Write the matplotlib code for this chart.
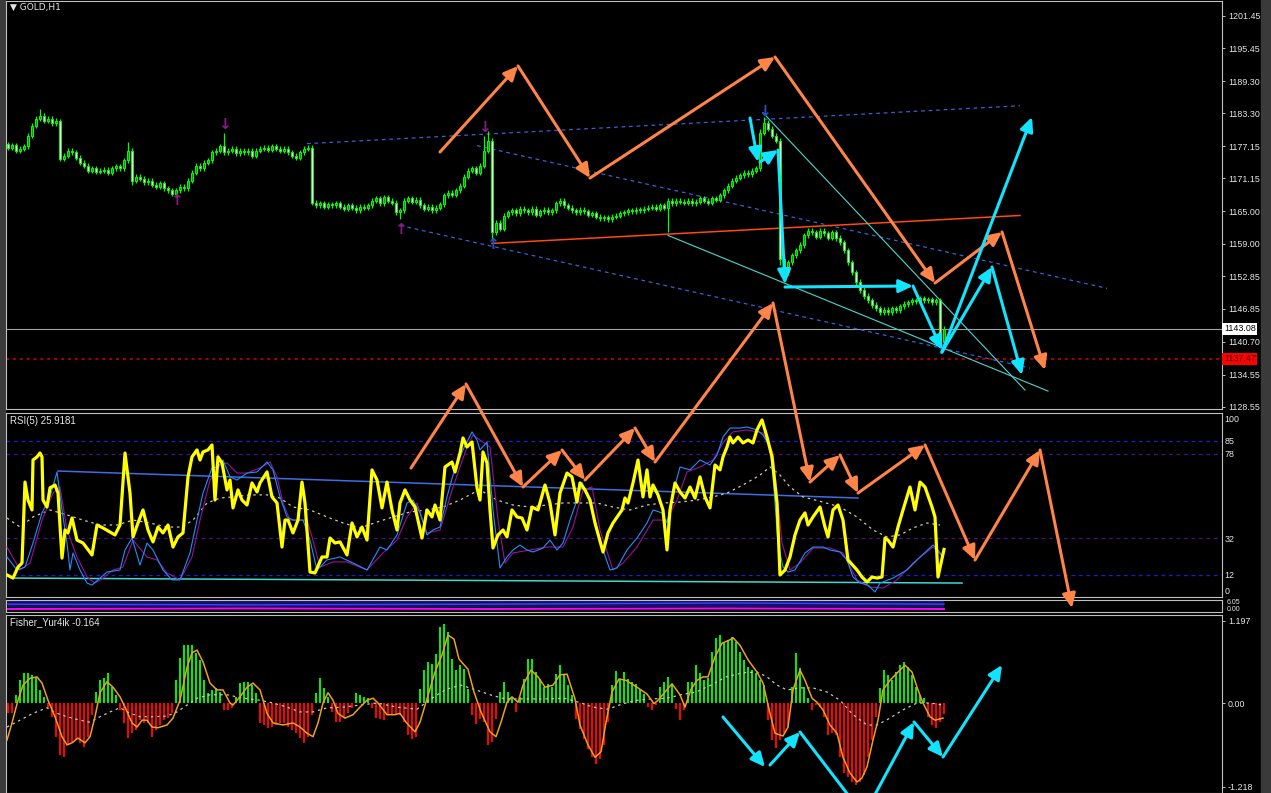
import matplotlib
matplotlib.use("Agg")
import matplotlib.pyplot as plt
from matplotlib.patches import Rectangle
from matplotlib.transforms import blended_transform_factory

W, H = 1271, 793
BG = "black"
FRAME = "#c0c0c0"
TXT = "#e6e6e6"
FONT = "Liberation Sans"

# ---------------- price (GOLD, H1) : one close per bar ----------------
open_first = 1177.5
closes = [
    1176.9, 1177.3, 1176.3, 1176.7, 1177.1,
    1179.1, 1181.0, 1182.3, 1182.8,
    1181.9, 1182.3, 1181.5, 1181.9,
    1174.8,
    1175.4, 1176.3, 1176.0, 1175.0, 1174.1,
    1173.5, 1172.6, 1173.0, 1172.4, 1172.6, 1172.8, 1172.2, 1173.0,
    1173.4, 1173.0, 1174.5,
    1176.3,
    1170.7,
    1171.5, 1171.1, 1170.4, 1170.7,
    1170.0, 1169.6, 1170.2, 1169.3, 1168.9,
    1168.3, 1168.9, 1169.6, 1169.3, 1170.7,
    1172.2, 1173.5, 1173.0, 1174.1, 1174.5,
    1176.0, 1176.3, 1177.1, 1176.0,
    1176.3, 1176.7, 1175.8, 1176.3, 1176.0, 1176.3, 1175.4,
    1176.3, 1176.7, 1176.9, 1176.5, 1177.1, 1176.7, 1176.3, 1176.7, 1176.0,
    1175.4, 1175.0, 1176.0, 1176.7,
    1176.9,
    1166.6,
    1166.1, 1166.5, 1165.9, 1166.3, 1166.1, 1166.5,
    1165.9, 1165.5, 1166.1, 1165.7, 1165.2, 1165.9, 1165.7, 1166.1,
    1167.0, 1167.4, 1166.5, 1167.6, 1167.0, 1166.6,
    1164.8, 1165.2,
    1167.0, 1167.4, 1166.8, 1167.2,
    1166.1, 1165.5, 1165.9, 1165.2, 1165.7, 1166.3,
    1168.0, 1168.5, 1168.1, 1168.9,
    1169.8, 1171.5, 1172.6,
    1173.0, 1172.2, 1173.5,
    1176.3, 1178.2,
    1161.1,
    1162.9, 1161.8,
    1164.2, 1164.8, 1165.2, 1164.6, 1165.5,
    1165.2, 1164.8, 1165.5, 1164.4, 1165.0, 1165.3, 1164.8, 1165.2,
    1166.5, 1167.0, 1166.1,
    1165.7, 1165.2, 1164.8, 1165.3, 1165.0, 1164.4, 1164.6,
    1164.0, 1163.7, 1163.9, 1163.5, 1164.0, 1164.2, 1164.6,
    1164.8, 1165.2, 1165.0, 1165.3, 1165.2, 1165.5,
    1165.7, 1165.9, 1165.5, 1166.1, 1165.7,
    1167.0,
    1166.5, 1167.0, 1166.8, 1166.6, 1167.0, 1166.5, 1166.8, 1167.4,
    1167.0, 1166.6, 1167.4, 1167.2, 1168.0, 1168.9,
    1169.8, 1170.7,
    1171.3, 1171.7, 1172.2, 1171.9, 1172.6, 1173.0,
    1179.7,
    1181.5,
    1180.4, 1179.1,
    1178.2,
    1156.2,
    1153.6, 1155.5,
    1156.8, 1157.7, 1158.7,
    1160.5, 1161.4,
    1161.1, 1160.3, 1161.4, 1160.9, 1160.1,
    1161.1, 1160.0, 1159.2,
    1157.7, 1155.5, 1153.6, 1151.8,
    1150.3, 1149.2, 1148.4, 1147.5,
    1146.9, 1146.2, 1146.6, 1146.2, 1146.9, 1146.6, 1147.3,
    1147.7, 1148.0, 1148.4, 1148.2,
    1148.8, 1148.4, 1148.6, 1148.0, 1148.4,
    1140.6,
    1143.08,
]
WICK = 0.5
high_fix = {8: 1184.1, 13: 1182.2, 30: 1178.0, 54: 1179.7, 119: 1179.0,
            120: 1180.0, 189: 1182.6, 190: 1182.0, 188: 1180.3}
low_fix = {31: 1170.0, 42: 1167.6, 98: 1163.5, 121: 1159.9, 165: 1161.2,
           193: 1155.0, 194: 1151.9, 233: 1140.0}

price_ticks = [1201.45, 1195.45, 1189.30, 1183.30, 1177.15, 1171.15, 1165.00,
               1159.00, 1152.85, 1146.85, 1140.70, 1134.55, 1128.55]
last_price = 1143.08
alert_price = 1137.47

# fractal arrows: bar, price, direction, colour
frac_bar = [42, 54, 98, 119, 121, 189, 233]
frac_price = [1167.0, 1181.2, 1161.6, 1180.6, 1158.9, 1183.6, 1139.3]
frac_dir = ["up", "down", "up", "down", "up", "down", "up"]
frac_col = ["#8a1a8a", "#8a1a8a", "#8a1a8a", "#8a1a8a", "#1e56c8", "#1e56c8", "#1e56c8"]

# trend lines on the price window (bar, price) pairs
chan_upper = ([74.75, 253.0], [1177.63, 1184.70])
chan_mid = ([117.25, 274.75], [1177.26, 1150.64])
chan_lower = ([98.0, 255.5], [1162.37, 1135.76])
red_line = ([121.0, 253.0], [1159.02, 1164.23])
cyan_line1 = ([165.0, 260.0], [1160.51, 1131.48])
cyan_line2 = ([188.75, 254.25], [1183.40, 1131.66])

# ---------------- RSI(5) window ----------------
rsi_x = [-0.25, 1.25, 2.5, 3.5, 4.25, 5, 6, 6.25, 7.25, 8,
         8.5, 8.75, 9.75, 10.5, 11.75, 12.5, 13.5, 14.25, 15, 16,
         17.25, 18.75, 21, 22.25, 23.75, 25.5, 26.75, 28, 29.25, 30.5,
         31.25, 32.5, 33.75, 35, 36.25, 37.5, 38.75, 40, 41.25, 42.5,
         43.75, 45, 46, 47.25, 48, 48.75, 50, 51, 51.75, 52.5,
         53.5, 54.75, 55.5, 56.25, 57.5, 58.5, 59.75, 61, 62.25, 63,
         64.75, 66, 67.25, 68.5, 69.25, 70, 71.25, 72.5, 73.5, 74.25,
         75.5, 76.75, 78.5, 79.75, 80.5, 81.75, 83, 84.75, 86, 87.25,
         88.5, 89.75, 91, 92.25, 93.5, 94.75, 96, 97.25, 98, 99.25,
         100.5, 101.75, 103.5, 104.75, 106, 106.75, 108, 109.25, 111, 111.75,
         113, 113.75, 114.75, 116, 117.25, 118, 118.75, 119.75, 120.5, 121.25,
         122.5, 123.75, 124.75, 126, 127.25, 128.5, 129.75, 131, 132.5, 134.25,
         135.5, 136.75, 138, 139.75, 141, 142.25, 143, 144.25, 145.5, 146.75,
         148.75, 150, 151.25, 153.5, 154.25, 155, 156.25, 157.5, 158.75, 159.75,
         160.5, 161.25, 162.5, 163.75, 164.75, 165.5, 166.75, 168, 169.25, 170.5,
         171.75, 173, 174.25, 175.5, 176.75, 178, 178.75, 179.75, 180.5, 181.25,
         182.5, 183.75, 185, 186.25, 187.25, 188.5, 189.75, 191, 192.25, 193,
         194.25, 195.5, 196.75, 198, 199.25, 200, 201.25, 203, 204.25, 205,
         206.25, 207.5, 208.75, 210, 212.25, 213.5, 214.75, 216, 217.25, 218.5,
         219.25, 220, 221.25, 222.5, 223.75, 225.5, 226.75, 228, 229.25, 231,
         231.75, 232.5, 234]
rsi_v = [12.0, 10.3, 16.3, 18.5, 62.6, 52.8, 47.4, 74.6, 76.3, 78.4,
         76.3, 52.8, 49.0, 59.4, 61.0, 56.6, 21.2, 36.5, 34.9, 43.0,
         31.0, 29.4, 22.9, 39.2, 37.6, 35.4, 33.8, 39.2, 78.4, 56.6,
         32.7, 40.3, 47.4, 36.5, 30.0, 38.1, 34.9, 39.2, 27.2, 32.7,
         34.9, 65.4, 76.3, 80.1, 74.6, 79.0, 80.1, 82.8, 52.8, 76.3,
         73.0, 58.3, 63.7, 48.5, 58.3, 52.8, 50.1, 62.1, 57.2, 62.1,
         68.1, 54.5, 51.2, 27.2, 41.9, 41.9, 34.9, 41.9, 62.6, 51.2,
         13.6, 13.1, 21.8, 21.8, 32.1, 29.4, 30.0, 22.9, 40.3, 32.7,
         38.1, 31.0, 69.2, 63.7, 48.5, 62.6, 47.4, 36.5, 51.2, 58.3,
         52.8, 49.0, 32.1, 47.4, 43.6, 50.1, 41.9, 70.8, 73.5, 68.1,
         78.4, 86.6, 81.7, 84.4, 59.4, 52.8, 79.0, 73.0, 47.4, 26.7,
         33.8, 36.5, 32.7, 47.4, 43.6, 43.0, 36.5, 49.0, 47.4, 61.0,
         51.2, 33.8, 56.6, 67.5, 65.4, 51.7, 62.1, 58.3, 52.8, 40.3,
         24.5, 34.9, 40.3, 47.4, 53.9, 51.2, 62.1, 74.6, 54.5, 69.2,
         54.5, 61.0, 55.6, 47.4, 25.6, 47.4, 62.1, 57.2, 53.9, 59.9,
         53.9, 65.4, 54.5, 48.5, 71.9, 69.2, 76.3, 81.7, 87.1, 83.9,
         87.1, 83.9, 85.5, 83.9, 91.0, 96.4, 87.1, 76.3, 51.2, 12.0,
         14.7, 21.8, 33.8, 41.9, 45.8, 39.2, 43.6, 49.0, 38.1, 32.7,
         47.4, 50.1, 41.9, 20.2, 14.7, 10.9, 8.2, 10.9, 10.3, 10.9,
         32.1, 31.0, 27.2, 38.1, 47.4, 59.9, 47.4, 62.6, 59.9, 49.0,
         43.6, 10.9, 25.9]

sig_blue_x = [-0.25, 2.25, 4.25, 6.25, 8.5, 10.5, 12.25, 13.5, 14.75, 15.5,
              16.25, 18, 19.75, 21, 23, 24.75, 28, 29.25, 31, 33,
              34.75, 36.25, 38.75, 41, 43, 45.5, 47.25, 48.75, 51, 52.5,
              53.75, 55.5, 57.25, 59.75, 62.25, 64.75, 66.25, 68, 69.75, 71.25,
              73.75, 75.5, 77.25, 79.75, 83, 86.25, 89.75, 93, 94.75, 97.25,
              99.75, 101.25, 103, 104.75, 106.25, 108, 109.75, 111.25, 113.75, 116,
              117.25, 118, 119.75, 121.25, 123, 124.75, 126.25, 128, 129.75, 131.25,
              133.75, 135.5, 137.25, 138.75, 140.5, 142.25, 143.5, 145, 146.75, 148.75,
              150.5, 152.25, 154.75, 157.25, 159.75, 161.25, 163.5, 164.75, 166.25, 168,
              170.5, 173, 175.5, 177.25, 178.75, 180.5, 183, 184.75, 187.25, 188.75,
              190.5, 191.25, 192.5, 193.75, 195, 196.75, 199.25, 201.25, 203.75, 205.5,
              208, 209.75, 211.25, 213, 215, 216.75, 218, 221.25, 224.75, 228,
              231.25, 232.5, 233.75]
sig_blue_v = [21.8, 14.7, 16.3, 29.4, 45.8, 54.5, 68.1, 47.4, 29.4, 14.7,
              24.0, 14.7, 7.6, 6.5, 10.3, 13.6, 14.7, 25.6, 32.1, 17.4,
              29.4, 25.6, 14.7, 9.3, 9.3, 24.0, 41.9, 56.6, 70.3, 70.8,
              74.6, 65.4, 63.7, 67.5, 68.1, 73.5, 69.2, 54.5, 43.6, 41.9,
              41.9, 31.0, 14.7, 20.2, 21.8, 18.5, 14.7, 27.2, 25.6, 33.8,
              51.2, 52.8, 45.8, 33.8, 36.5, 38.1, 54.5, 66.4, 80.1, 89.9,
              85.5, 80.1, 84.4, 47.4, 15.8, 21.8, 25.6, 28.3, 25.6, 24.5,
              26.7, 31.0, 25.6, 29.4, 41.9, 52.8, 62.6, 54.5, 41.9, 25.6,
              14.7, 15.8, 25.6, 32.1, 40.3, 47.4, 45.8, 40.3, 56.6, 70.8,
              69.2, 74.6, 71.9, 77.3, 87.1, 92.0, 92.0, 92.6, 91.0, 88.2,
              81.7, 65.4, 29.4, 16.3, 13.6, 14.7, 24.0, 27.2, 27.2, 25.6,
              24.5, 20.2, 10.9, 7.6, 6.5, 2.7, 7.6, 10.3, 14.7, 21.8,
              28.3, 25.6, 21.8]

sig_purple_x = [-0.25, 3, 5.5, 8.5, 11.25, 13, 14.75, 17.25, 19.75, 21.75,
                23.75, 26.25, 28.75, 31.25, 34.75, 37.25, 39.75, 43, 46, 48,
                50.5, 53, 54.75, 57.25, 59.75, 63, 65.5, 67.25, 68.75, 70.5,
                74.75, 76, 78, 81.25, 84.75, 89.75, 93.75, 97.25, 99.75, 102.25,
                104.75, 108, 111.25, 114.75, 116.25, 118, 120.5, 122.5, 124.25, 126.25,
                130.5, 134.75, 138.75, 141.25, 143.75, 146, 148, 151.25, 153.75, 157.25,
                161.25, 164.75, 167.25, 169.75, 173, 176.25, 178.75, 181.25, 184.75, 188.75,
                191.25, 193.5, 195.5, 198, 201.25, 205.5, 208.75, 212.25, 215.5, 218.75,
                222.25, 226.25, 231.25, 233.75]
sig_purple_v = [27.2, 14.7, 18.5, 41.9, 56.6, 59.9, 36.5, 21.8, 10.9, 7.6,
                10.3, 14.7, 16.3, 31.0, 21.8, 20.2, 13.1, 9.3, 21.8, 41.9,
                63.7, 71.9, 73.0, 67.5, 67.5, 70.3, 73.5, 65.4, 51.2, 41.9,
                41.9, 32.7, 16.3, 19.1, 19.1, 14.7, 24.0, 31.0, 43.6, 51.2,
                34.9, 36.5, 59.9, 81.7, 88.2, 85.5, 81.7, 41.9, 18.5, 24.0,
                25.6, 27.2, 27.2, 38.1, 58.3, 59.9, 36.5, 14.7, 18.5, 27.2,
                41.9, 41.9, 52.8, 68.1, 70.8, 74.6, 83.9, 89.9, 91.0, 89.3,
                78.4, 29.4, 14.7, 18.5, 26.7, 26.7, 24.0, 9.3, 5.4, 4.9,
                9.3, 18.5, 27.2, 21.8]

rsi_slow_x = [-0.25, 3, 6.25, 10.5, 14.75, 18.75, 23, 27.25, 31.25, 35.5,
              39.75, 43.5, 46.25, 49.75, 53, 56.25, 60.5, 64.75, 68, 71.25,
              75.5, 79.75, 83.75, 88, 92.25, 96.25, 100.5, 104.75, 108.75, 113,
              116.25, 118, 122.25, 126.25, 130.5, 134.75, 138.75, 143, 147.25, 151.25,
              155.5, 159.75, 163.75, 168, 172.25, 176.25, 179.75, 183.75, 188, 190.5,
              193, 195.5, 198.75, 203.75, 208, 212.25, 216.25, 219.75, 223, 226.25,
              229.75, 233]
rsi_slow_v = [43.0, 38.1, 43.6, 47.4, 44.7, 41.9, 39.2, 39.2, 41.9, 40.3,
              38.1, 38.1, 41.9, 51.2, 53.9, 54.5, 55.6, 55.6, 53.9, 49.0,
              47.4, 43.6, 40.3, 37.6, 40.8, 43.6, 46.3, 47.4, 49.0, 52.8,
              56.6, 58.3, 52.8, 50.1, 49.0, 50.1, 51.2, 51.2, 51.2, 49.0,
              47.4, 50.1, 51.2, 51.7, 52.8, 54.5, 56.6, 61.0, 66.4, 70.8,
              66.4, 59.9, 54.5, 51.7, 49.0, 43.6, 36.5, 32.7, 33.8, 37.6,
              40.3, 39.2]

rsi_levels = [85, 78, 32, 12]
rsi_level_colors = ["#1c1cd0", "#4a1088", "#4a1088", "#1c1cd0"]
rsi_tick_pos = [97, 85, 78, 32, 12, 3.3]
rsi_tick_lbl = ["100", "85", "78", "32", "12", "0"]
rsi_trend_blue = ([12.5, 212.5], [68.6, 53.9])
rsi_trend_cyan = ([1.75, 238.5], [10.3, 7.6])

# ---------------- Fisher_Yur4ik window ----------------
fisher_hist = [
    -0.15, -0.15, 0.12, 0.33, 0.44, 0.44, 0.41, 0.36, 0.19, 0.09,
    -0.07, -0.20, -0.49, -0.76, -0.79, -0.61, -0.57, -0.54, -0.58, -0.64,
    -0.49, -0.17, 0.16, 0.33, 0.36, 0.44, 0.23, 0.12, -0.10, -0.29,
    -0.51, -0.44, -0.39, -0.25, -0.29, -0.29, -0.49, -0.39, -0.32, -0.25,
    -0.22, -0.15, 0.33, 0.66, 0.84, 0.84, 0.84, 0.73, 0.63, 0.33,
    0.15, 0.19, 0.22, 0.16, -0.10, -0.10, -0.07, 0.09, 0.29, 0.31,
    0.31, 0.26, 0.15, -0.29, -0.32, -0.36, -0.35, -0.32, -0.29, -0.29,
    -0.35, -0.39, -0.44, -0.51, -0.58, -0.49, -0.17, 0.15, 0.36, 0.22,
    0.09, -0.13, -0.28, -0.28, -0.20, -0.15, -0.07, 0.15, 0.12, 0.09,
    0.07, -0.07, -0.22, -0.23, -0.25, -0.17, -0.16, -0.17, -0.17, -0.28,
    -0.47, -0.52, -0.49, 0.20, 0.48, 0.60, 0.57, 0.71, 1.11, 1.15,
    1.03, 0.64, 0.48, 0.55, 0.49, 0.20, -0.17, -0.31, -0.23, -0.28,
    -0.61, -0.57, -0.23, 0.16, 0.31, 0.16, 0.09, -0.13, 0.09, 0.35,
    0.64, 0.64, 0.45, 0.35, 0.23, 0.28, 0.23, 0.42, 0.55, 0.42,
    0.26, 0.12, -0.23, -0.38, -0.52, -0.67, -0.79, -0.89, -0.82, -0.61,
    -0.28, 0.26, 0.47, 0.35, 0.45, 0.35, 0.31, 0.28, 0.20, 0.13,
    -0.06, -0.10, -0.03, 0.23, 0.31, 0.38, 0.28, -0.09, -0.25, -0.10,
    0.31, 0.31, 0.55, 0.44, 0.33, 0.36, 0.74, 0.95, 0.99, 0.89,
    0.92, 0.96, 0.89, 0.74, 0.63, 0.52, 0.48, 0.44, 0.33, 0.26,
    -0.25, -0.54, -0.66, -0.54, -0.44, -0.35, 0.23, 0.73, 0.51, 0.23,
    0.07, -0.10, -0.03, -0.06, -0.20, -0.47, -0.44, -0.47, -0.79, -1.02,
    -1.08, -1.15, -1.19, -1.15, -1.05, -0.79, -0.54, -0.20, 0.22, 0.48,
    0.41, 0.33, 0.45, 0.55, 0.60, 0.52, 0.41, 0.23, 0.12, 0.07,
    -0.20, -0.32, -0.36, -0.28, -0.164,
]
fish_line_x = [-0.25, 1, 2.5, 3.75, 5.5, 7.25, 8.5, 10, 11.75, 13.5,
               14.75, 16, 17.5, 19.25, 20.5, 21.75, 23, 24.75, 26.25, 28,
               29.25, 31, 32.25, 33.5, 34.75, 36, 37.5, 39.75, 41.25, 43,
               44.75, 46, 47.25, 48.75, 50.5, 52.25, 53.75, 55.5, 56.25, 58,
               59.75, 61.25, 63, 64.75, 66.25, 68.75, 71.25, 73, 74.75, 76.25,
               77.5, 78.75, 80, 81.25, 82.5, 84.25, 86.25, 88, 89.75, 91.25,
               92.5, 94.75, 96.75, 98, 99.5, 101.75, 103, 104.5, 106.75, 108.5,
               110, 111.5, 112.75, 115, 116.5, 118.25, 120.5, 122, 123.25, 124.75,
               126, 127.5, 128.75, 130.75, 132.5, 134.25, 136.25, 138, 139.75, 141.75,
               143, 145, 146.75, 148.25, 149.5, 151, 152.75, 154.5, 157.25, 159.75,
               161.5, 162.5, 164.25, 166, 168, 169.25, 170.75, 172.25, 173.75, 175,
               176.75, 178.5, 180.5, 181.25, 183, 185, 187.25, 188.75, 190.5, 191.75,
               193.75, 195, 196.25, 198, 199.25, 201, 202.25, 203.75, 205.5, 207.25,
               208.75, 210.5, 212.25, 213.5, 214.75, 216.25, 217.5, 218.75, 220.5, 222.5,
               224.25, 226, 227.5, 228.75, 230.5, 231.75, 233.75]
fish_line_v = [-0.54, -0.29, 0.04, 0.26, 0.36, 0.38, 0.29, 0.04, -0.20, -0.49,
               -0.61, -0.58, -0.51, -0.58, -0.49, -0.20, 0.15, 0.31, 0.23, 0.09,
               -0.06, -0.29, -0.35, -0.25, -0.25, -0.35, -0.36, -0.32, -0.22, 0.04,
               0.52, 0.73, 0.77, 0.60, 0.29, 0.19, 0.19, 0.0, -0.03, 0.09,
               0.23, 0.29, 0.19, -0.15, -0.29, -0.32, -0.29, -0.35, -0.44, -0.49,
               -0.29, 0.0, 0.15, 0.04, -0.15, -0.22, -0.17, -0.06, 0.04, 0.07,
               0.0, -0.17, -0.17, -0.15, -0.28, -0.42, -0.28, 0.01, 0.45, 0.70,
               0.99, 0.93, 0.64, 0.49, 0.16, -0.13, -0.42, -0.49, -0.28, 0.01,
               0.09, 0.01, 0.26, 0.48, 0.38, 0.23, 0.26, 0.41, 0.42, 0.06,
               -0.32, -0.61, -0.79, -0.71, -0.28, 0.16, 0.35, 0.33, 0.23, 0.13,
               -0.01, 0.04, 0.16, 0.28, 0.12, -0.06, 0.20, 0.33, 0.38, 0.38,
               0.67, 0.87, 0.92, 0.95, 0.84, 0.63, 0.45, 0.29, -0.15, -0.44,
               -0.48, -0.35, 0.19, 0.48, 0.33, 0.07, 0.01, -0.10, -0.32, -0.44,
               -0.79, -1.02, -1.15, -1.09, -0.93, -0.54, -0.25, 0.19, 0.33, 0.45,
               0.55, 0.45, 0.19, 0.0, -0.20, -0.25, -0.22]
fish_slow_x = [-0.25, 3, 6.25, 9.75, 12.25, 14.75, 18, 20.5, 23, 25.5,
               28, 30.5, 33, 36.25, 39.75, 42.25, 44.75, 47.25, 50.5, 54.75,
               58.75, 63, 66.25, 69.75, 73, 76.25, 79.75, 83.75, 88, 92.25,
               97.25, 102.25, 105.75, 109.5, 113.25, 117, 120.5, 124.25, 128, 131.5,
               135.25, 139, 142.75, 146.25, 150, 153.75, 157.25, 161, 164.75, 168.25,
               172, 175.75, 179.5, 183.75, 187.25, 189.75, 192.25, 194.75, 198, 201.25,
               204.75, 208, 211.25, 214.75, 217.25, 220.5, 223.75, 227.25, 230.5, 233.75]
fish_slow_v = [-0.35, -0.25, -0.15, -0.07, -0.15, -0.20, -0.25, -0.28, -0.20, -0.13,
               -0.07, -0.15, -0.20, -0.20, -0.19, -0.13, -0.03, 0.07, 0.12, 0.12,
               0.07, 0.04, 0.0, -0.06, -0.13, -0.13, -0.07, -0.06, -0.03, 0.0,
               -0.06, -0.09, 0.06, 0.20, 0.26, 0.19, 0.12, 0.06, 0.06, 0.06,
               0.06, 0.07, 0.01, -0.06, -0.09, -0.01, 0.04, 0.06, 0.07, 0.12,
               0.16, 0.26, 0.38, 0.44, 0.45, 0.38, 0.26, 0.19, 0.22, 0.22,
               0.16, 0.04, -0.17, -0.32, -0.32, -0.22, -0.10, 0.0, 0.0, -0.03]
fisher_ticks = [1.197, 0.0, -1.218]
fisher_tick_lbl = ["1.197", "0.00", "-1.218"]

# thin garbled volume strip between RSI and Fisher
strip_x = [0, 60, 120, 180, 234]
strip_magenta = [2.5, 3.0, 2.5, 3.0, 2.5]
strip_blue = [6.5, 6.0, 6.5, 7.5, 6.5]

# hand-drawn arrows (screen pixels, y down) : chains, arrowhead at each vertex
orange_chains = [
    [(440, 152), (518, 66), (590, 178), (775, 57), (935, 283), (1002, 232), (1045, 370)],
    [(411, 468), (466, 384), (523, 487), (562, 450), (585, 480), (635, 428), (655, 462),
     (773, 303), (810, 482), (840, 455), (858, 493), (925, 445), (975, 560), (1040, 450),
     (1072, 608)],
]
cyan_chains = [
    [(750, 118), (758, 162)],
    [(760, 162), (778, 150), (785, 284)],
    [(785, 287), (913, 286), (942, 350)],
    [(942, 352), (1032, 117)],
    [(942, 352), (992, 267), (1022, 375)],
    [(723, 717), (765, 767)],
    [(770, 765), (800, 732)],
    [(872, 800), (914, 722), (943, 757), (1002, 665)],
]
cyan_plain = [[(800, 732), (852, 800)]]

XMIN, XMAX = -0.5, 303.5


def px_box(left, top, right, bottom):
    return [left / W, 1 - bottom / H, (right - left) / W, (bottom - top) / H]


def style_panel(ax):
    ax.set_facecolor(BG)
    for s in ax.spines.values():
        s.set_color(FRAME)
        s.set_linewidth(0.8)
    ax.set_xlim(XMIN, XMAX)
    ax.set_xticks([])
    ax.yaxis.tick_right()
    ax.tick_params(axis="y", colors=FRAME, labelcolor=TXT, labelsize=6.4,
                   length=2.2, width=0.7, pad=2)


plt.rcParams["font.family"] = [FONT, "DejaVu Sans"]
fig = plt.figure(figsize=(W / 100, H / 100), dpi=100, facecolor=BG)
fig.patches.append(Rectangle((0, 0), 5 / W, 1, transform=fig.transFigure,
                             color="#3a3a3a", zorder=-1))
fig.patches.append(Rectangle((1261 / W, 0), 10 / W, 1, transform=fig.transFigure,
                             color="#3a3a3a", zorder=-1))

# ---------------- main price window ----------------
ax = fig.add_axes(px_box(6, 1, 1222, 409))
ax.set_ylim(1128.13, 1204.24)
ax.set_yticks(price_ticks)
ax.set_yticklabels([f"{p:.2f}" for p in price_ticks])
style_panel(ax)

bars = list(range(len(closes)))
opens = [open_first] + closes[:-1]
highs = [high_fix.get(i, max(o, c) + WICK) for i, o, c in zip(bars, opens, closes)]
lows = [low_fix.get(i, min(o, c) - WICK) for i, o, c in zip(bars, opens, closes)]
ax.vlines(bars, lows, highs, color="#00ff00", lw=0.9, zorder=3)
bottoms = [min(o, c) for o, c in zip(opens, closes)]
heights = [max(abs(c - o), 0.15) for o, c in zip(opens, closes)]
faces = ["#009a00" if c >= o else "white" for o, c in zip(opens, closes)]
ax.bar(bars, heights, bottom=bottoms, width=0.7, color=faces,
       edgecolor="#00ff00", linewidth=0.7, zorder=4)

for b, p, d, col in zip(frac_bar, frac_price, frac_dir, frac_col):
    ax.text(b, p, "↑" if d == "up" else "↓", color=col, fontsize=11,
            fontweight="bold", ha="center", va="center", family="DejaVu Sans", zorder=5)

dash = (0, (3, 3))
for xs, ys in (chan_upper, chan_mid, chan_lower):
    ax.plot(xs, ys, color="#3a5fd6", lw=0.9, linestyle=dash, zorder=2)
ax.plot(*red_line, color="#ff4a10", lw=1.1, zorder=2)
ax.plot(*cyan_line1, color="#48d8d0", lw=0.8, zorder=2)
ax.plot(*cyan_line2, color="#48d8d0", lw=0.8, zorder=2)
ax.axhline(last_price, color="#9aa2aa", lw=0.8, zorder=1)
ax.axhline(alert_price, color="#d00000", lw=1.1, linestyle=(0, (2, 2.5)), zorder=1)

tr = blended_transform_factory(ax.transAxes, ax.transData)
ax.text(1.0015, last_price, f"{last_price:.2f}", transform=tr, fontsize=6.4,
        color="black", va="center", ha="left",
        bbox=dict(boxstyle="square,pad=0.18", fc="white", ec="none"))
ax.text(1.0015, alert_price, f"{alert_price:.2f}", transform=tr, fontsize=6.4,
        color="#400000", va="center", ha="left",
        bbox=dict(boxstyle="square,pad=0.18", fc="#ff0000", ec="none"))
ax.text(0.003, 0.985, "▼ GOLD,H1", transform=ax.transAxes, color=TXT,
        fontsize=6.5, va="center", ha="left", family=["DejaVu Sans"])

# ---------------- RSI window ----------------
ar = fig.add_axes(px_box(6, 413, 1222, 597))
ar.set_ylim(0, 100.2)
ar.set_yticks(rsi_tick_pos)
ar.set_yticklabels(rsi_tick_lbl)
style_panel(ar)
ar.tick_params(axis="y", length=0)
for lv, col in zip(rsi_levels, rsi_level_colors):
    ar.axhline(lv, color=col, lw=0.9, linestyle=dash, zorder=1)
ar.plot(*rsi_trend_blue, color="#3c6ee6", lw=1.1, zorder=2)
ar.plot(*rsi_trend_cyan, color="#40d8d0", lw=1.1, zorder=2)
ar.plot(rsi_slow_x, rsi_slow_v, color="#d8c8a8", lw=0.9, linestyle=(0, (2, 3)), zorder=2)
ar.plot(sig_purple_x, sig_purple_v, color="#9a10a0", lw=0.8, zorder=3)
ar.plot(sig_blue_x, sig_blue_v, color="#1e90ff", lw=0.8, zorder=3)
ar.plot(rsi_x, rsi_v, color="#ffff00", lw=2.3, zorder=4)
ar.text(0.0033, 0.957, "RSI(5) 25.9181", transform=ar.transAxes, color=TXT,
        fontsize=7, va="center", ha="left")

# ---------------- thin strip ----------------
astrip = fig.add_axes(px_box(6, 600, 1222, 612))
astrip.set_ylim(0, 10)
astrip.set_yticks([])
style_panel(astrip)
astrip.fill_between(strip_x, 4.5, 9.5, color="#101070", lw=0)
astrip.plot(strip_x, strip_blue, color="#4040ff", lw=1.0)
astrip.plot(strip_x, strip_magenta, color="#ff00ff", lw=1.4)
astrip.text(1.004, 0.75, "6.05", transform=astrip.transAxes, color=TXT, fontsize=5, va="center")
astrip.text(1.004, 0.2, "0.00", transform=astrip.transAxes, color=TXT, fontsize=5, va="center")

# ---------------- Fisher window ----------------
af = fig.add_axes(px_box(6, 615, 1222, 793))
af.set_ylim(-1.310, 1.281)
af.set_yticks(fisher_ticks)
af.set_yticklabels(fisher_tick_lbl)
style_panel(af)
fcols = ["#00ee00" if v >= 0 else "#ff0000" for v in fisher_hist]
af.bar(bars, fisher_hist, width=0.74, color=fcols, linewidth=0, zorder=2)
af.plot(fish_slow_x, fish_slow_v, color="#d0c8b8", lw=0.9, linestyle=(0, (2, 3)), zorder=3)
af.plot(fish_line_x, fish_line_v, color="#f0a020", lw=1.1, zorder=4)
af.text(0.0033, 0.96, "Fisher_Yur4ik -0.164", transform=af.transAxes, color=TXT,
        fontsize=7, va="center", ha="left")

# ---------------- drawn arrows overlay ----------------
ov = fig.add_axes([0, 0, 1, 1], facecolor="none")
ov.set_xlim(0, W)
ov.set_ylim(H, 0)
ov.axis("off")


def draw_chain(pts, color, head=True):
    style = "-|>,head_length=0.6,head_width=0.28" if head else "-"
    for p0, p1 in zip(pts[:-1], pts[1:]):
        ov.annotate("", xy=p1, xytext=p0, annotation_clip=False,
                    arrowprops=dict(arrowstyle=style, color=color, lw=2.2,
                                    shrinkA=0, shrinkB=0, mutation_scale=14))


for ch in orange_chains:
    draw_chain(ch, "#ff8448")
for ch in cyan_chains:
    draw_chain(ch, "#12e4ff")
for ch in cyan_plain:
    draw_chain(ch, "#12e4ff", head=False)

fig.savefig("out.png", dpi=100, facecolor=BG)
